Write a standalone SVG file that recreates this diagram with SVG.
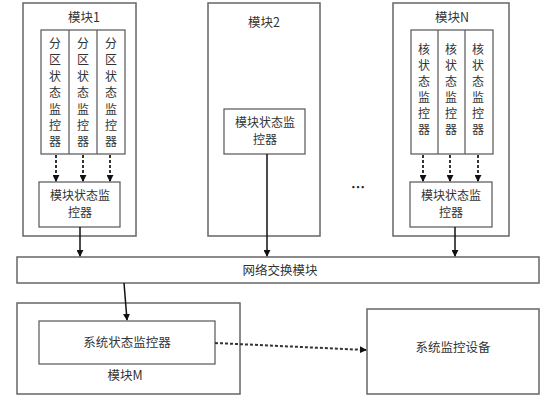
<svg xmlns="http://www.w3.org/2000/svg" width="554" height="404" viewBox="0 0 554 404">
<style>
.box{fill:#fff;stroke:#666;stroke-width:1.5}
.in{fill:#fff;stroke:#555;stroke-width:1.2}
text{font-family:"Noto Sans CJK SC","Liberation Sans",sans-serif;font-size:12.5px;fill:#333;text-anchor:middle}
.v{font-size:12px}
.t{font-size:12px}
.solid{stroke:#111;stroke-width:1.5;fill:none}
.dash{stroke:#333;stroke-width:2;stroke-dasharray:3 2;fill:none}
</style>
<defs>
<marker id="ah" viewBox="0 0 8 8" refX="7" refY="4" markerWidth="7" markerHeight="7" markerUnits="userSpaceOnUse" orient="auto">
<path d="M0,0L8,4L0,8z" fill="#111"/>
</marker>
</defs>
<rect width="554" height="404" fill="#fff"/>

<g id="module1">
<rect class="box" x="23" y="3" width="113" height="233"/>
<text x="84" y="22">模块1</text>
<rect class="in" x="41" y="30" width="84" height="124"/>
<line class="in" x1="69" y1="30" x2="69" y2="154"/>
<line class="in" x1="97" y1="30" x2="97" y2="154"/>
<text class="v" x="55" y="48">分</text><text class="v" x="55" y="64">区</text><text class="v" x="55" y="81">状</text><text class="v" x="55" y="97">态</text><text class="v" x="55" y="114">监</text><text class="v" x="55" y="130">控</text><text class="v" x="55" y="146">器</text>
<text class="v" x="83" y="48">分</text><text class="v" x="83" y="64">区</text><text class="v" x="83" y="81">状</text><text class="v" x="83" y="97">态</text><text class="v" x="83" y="114">监</text><text class="v" x="83" y="130">控</text><text class="v" x="83" y="146">器</text>
<text class="v" x="111" y="48">分</text><text class="v" x="111" y="64">区</text><text class="v" x="111" y="81">状</text><text class="v" x="111" y="97">态</text><text class="v" x="111" y="114">监</text><text class="v" x="111" y="130">控</text><text class="v" x="111" y="146">器</text>
<rect class="in" x="39" y="182" width="81" height="45"/>
<text class="t" x="80" y="200">模块状态监</text>
<text class="t" x="80" y="217">控器</text>
</g>

<g id="module2">
<rect class="box" x="208" y="3" width="112" height="233"/>
<text x="264" y="27">模块2</text>
<rect class="in" x="224" y="109" width="81" height="45"/>
<text class="t" x="265" y="127">模块状态监</text>
<text class="t" x="265" y="144">控器</text>
</g>

<text x="358" y="192" style="font-size:14px;font-weight:bold;fill:#222">…</text>

<g id="moduleN">
<rect class="box" x="393" y="3" width="116" height="233"/>
<text x="452" y="22">模块N</text>
<rect class="in" x="411" y="30" width="82" height="124"/>
<line class="in" x1="438" y1="30" x2="438" y2="154"/>
<line class="in" x1="465" y1="30" x2="465" y2="154"/>
<text class="v" x="424" y="54">核</text><text class="v" x="424" y="70">状</text><text class="v" x="424" y="86">态</text><text class="v" x="424" y="102">监</text><text class="v" x="424" y="118">控</text><text class="v" x="424" y="134">器</text>
<text class="v" x="451" y="54">核</text><text class="v" x="451" y="70">状</text><text class="v" x="451" y="86">态</text><text class="v" x="451" y="102">监</text><text class="v" x="451" y="118">控</text><text class="v" x="451" y="134">器</text>
<text class="v" x="478" y="54">核</text><text class="v" x="478" y="70">状</text><text class="v" x="478" y="86">态</text><text class="v" x="478" y="102">监</text><text class="v" x="478" y="118">控</text><text class="v" x="478" y="134">器</text>
<rect class="in" x="410" y="182" width="82" height="45"/>
<text class="t" x="451" y="200">模块状态监</text>
<text class="t" x="451" y="217">控器</text>
</g>

<g id="network">
<rect class="box" x="17" y="257" width="522" height="26"/>
<text x="280" y="275">网络交换模块</text>
</g>

<g id="moduleM">
<rect class="box" x="17" y="303" width="223" height="91"/>
<rect class="in" x="39" y="321" width="176" height="43"/>
<text x="127" y="347">系统状态监控器</text>
<text x="125" y="380">模块M</text>
</g>

<g id="monitor">
<rect class="box" x="367" y="309" width="172" height="85"/>
<text x="453" y="352">系统监控设备</text>
</g>

<g id="connectors">
<line class="dash" x1="56" y1="155" x2="56" y2="181" marker-end="url(#ah)"/>
<line class="dash" x1="83" y1="155" x2="83" y2="181" marker-end="url(#ah)"/>
<line class="dash" x1="110" y1="155" x2="110" y2="181" marker-end="url(#ah)"/>
<line class="dash" x1="423" y1="155" x2="423" y2="181" marker-end="url(#ah)"/>
<line class="dash" x1="450" y1="155" x2="450" y2="181" marker-end="url(#ah)"/>
<line class="dash" x1="478" y1="155" x2="478" y2="181" marker-end="url(#ah)"/>
<line class="solid" x1="80" y1="227" x2="80" y2="256" marker-end="url(#ah)"/>
<line class="solid" x1="267" y1="154" x2="267" y2="256" marker-end="url(#ah)"/>
<line class="solid" x1="455" y1="227" x2="455" y2="256" marker-end="url(#ah)"/>
<line class="solid" x1="124" y1="283" x2="127" y2="320" marker-end="url(#ah)"/>
<line class="dash" x1="215" y1="343" x2="366" y2="350" marker-end="url(#ah)"/>
</g>
</svg>
